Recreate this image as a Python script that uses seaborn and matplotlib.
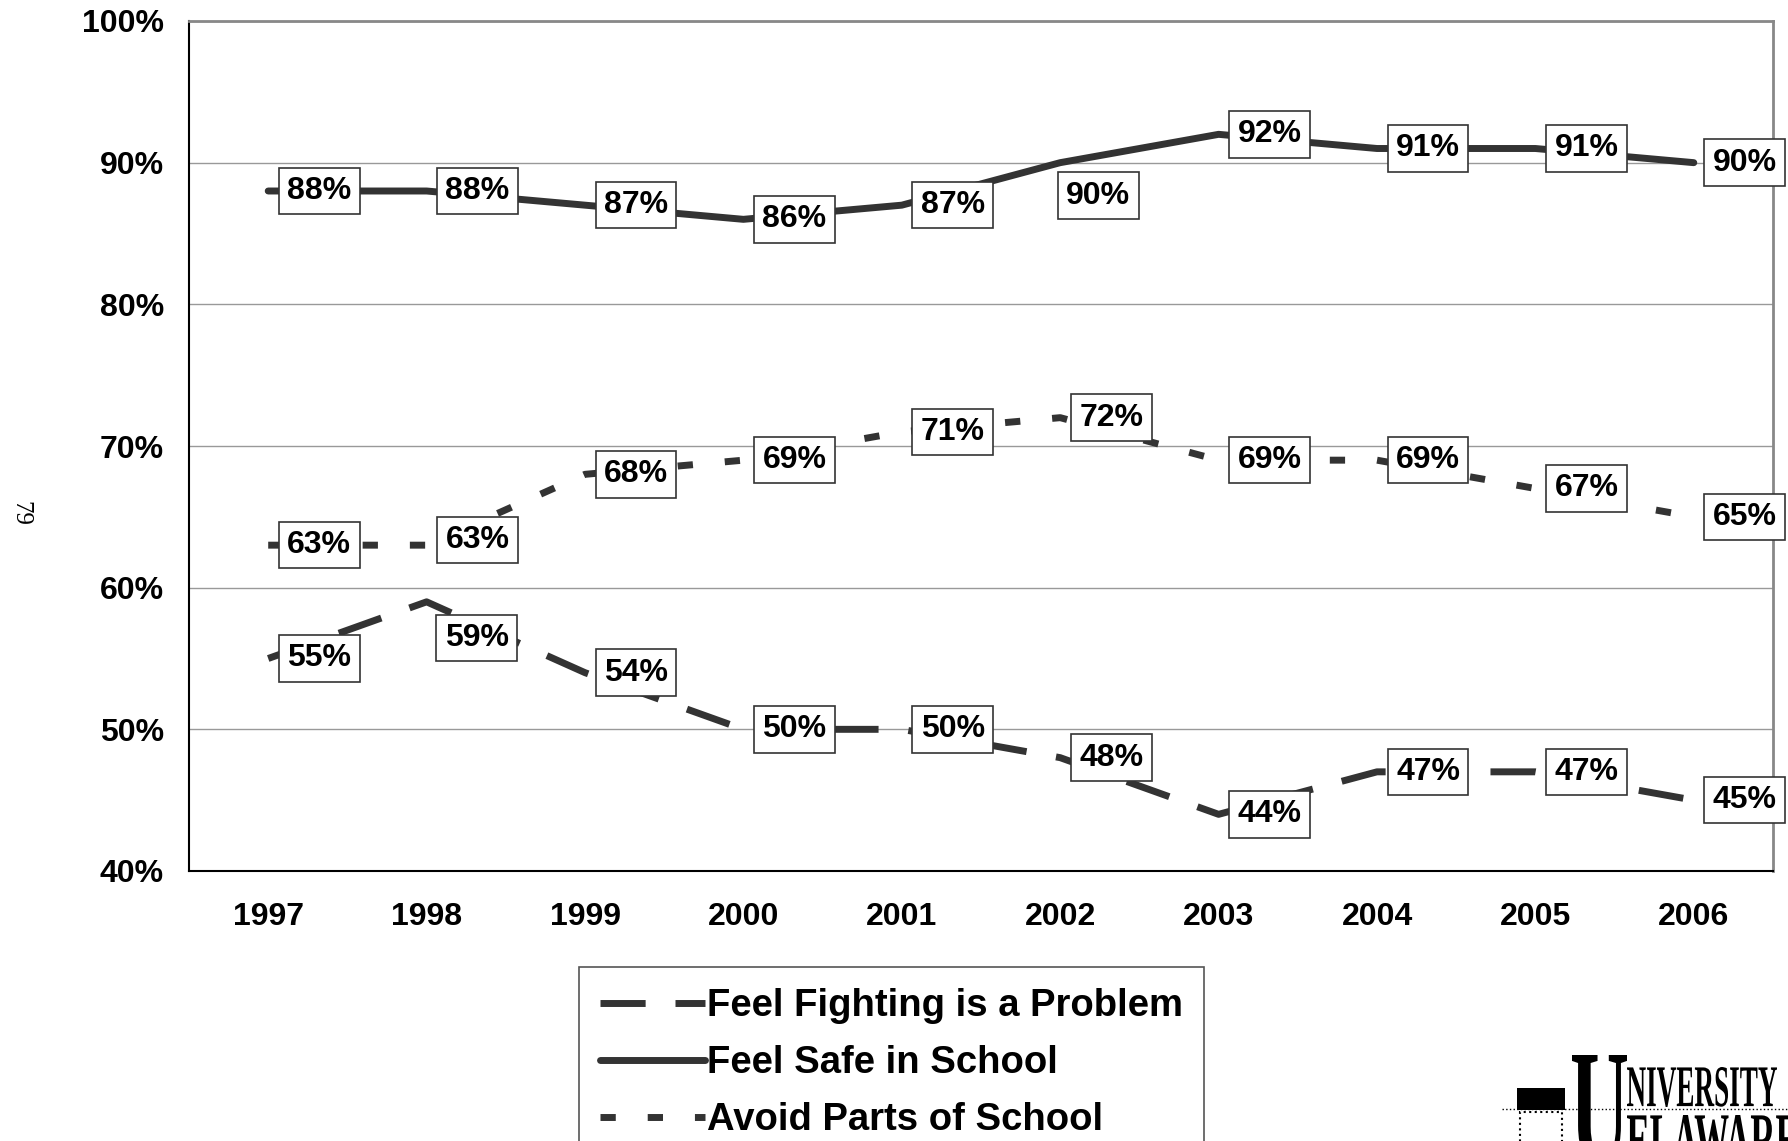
import numpy as np
import matplotlib
matplotlib.use("Agg")
import matplotlib.pyplot as plt
import seaborn as sns
from matplotlib.patches import PathPatch, Rectangle
from matplotlib.textpath import TextPath
from matplotlib.font_manager import FontProperties
from matplotlib.transforms import Affine2D, IdentityTransform
from matplotlib.ticker import FuncFormatter

# values
years = ["1997", "1998", "1999", "2000", "2001", "2002", "2003", "2004", "2005", "2006"]
fighting = [55, 59, 54, 50, 50, 48, 44, 47, 47, 45]
safe = [88, 88, 87, 86, 87, 90, 92, 91, 91, 90]
avoid = [63, 63, 68, 69, 71, 72, 69, 69, 67, 65]

sns.set_style("white")
plt.rcParams['font.family'] = ['Liberation Sans', 'DejaVu Sans']
plt.rcParams['font.weight'] = 'bold'
plt.rcParams['text.color'] = 'black'
plt.rcParams['xtick.color'] = 'black'
plt.rcParams['ytick.color'] = 'black'

W, H = 1788, 1141
fig = plt.figure(figsize=(W / 100, H / 100), dpi=100)
ax = fig.add_axes([189 / W, 1 - 871 / H, (1773 - 189) / W, 850 / H])

x = np.arange(len(years))
col = "#333333"
series = [
    ("Feel Fighting is a Problem", fighting, (0, (6.5, 4.3))),
    ("Feel Safe in School", safe, "-"),
    ("Avoid Parts of School", avoid, (0, (2.2, 4.6))),
]
for name, vals, ls in series:
    sns.lineplot(x=x, y=vals, ax=ax, color=col, lw=5, linestyle=ls, label=name,
                 solid_capstyle="round", dash_capstyle="butt", zorder=3)

# data labels (offsets in pixels, a few were moved by hand in the original)
moved = {("safe", 5): (38, -33), ("fighting", 1): (50, -36), ("avoid", 1): (51, 5)}
for key, vals in [("fighting", fighting), ("safe", safe), ("avoid", avoid)]:
    for i, v in enumerate(vals):
        dx, dy = moved.get((key, i), (51, 0))
        ax.annotate(f"{v}%", (x[i], v), xytext=(dx, dy), textcoords="offset pixels",
                    ha="center", va="center", fontsize=23, fontweight="bold", color="black",
                    bbox=dict(boxstyle="square,pad=0.26", fc="white", ec="#333333", lw=1.2),
                    zorder=5, annotation_clip=False)

ax.set_xlim(-0.5, 9.5)
ax.set_ylim(40, 100)
ax.set_yticks(range(40, 101, 10))
ax.yaxis.set_major_formatter(FuncFormatter(lambda v, p: f"{v:.0f}%"))
ax.set_xticks(x)
ax.set_xticklabels(years)
ax.set_xticks(np.arange(-0.5, 10, 1), minor=True)
ax.tick_params(axis="x", which="major", length=0, pad=22, labelsize=23)
ax.tick_params(axis="x", which="minor", length=7, width=1.2, direction="out", color="black")
ax.tick_params(axis="y", length=7, width=1.2, direction="out", color="black", pad=11, labelsize=23)
ax.set_xlabel("")
ax.set_ylabel("")
ax.grid(axis="y", color="#999999", lw=1)
ax.set_axisbelow(True)
for s in ["left", "bottom"]:
    ax.spines[s].set_color("black")
    ax.spines[s].set_linewidth(1.5)
for s in ["top", "right"]:
    ax.spines[s].set_color("#888888")
    ax.spines[s].set_linewidth(2)

leg = ax.legend(loc="upper left", bbox_to_anchor=(579 / W, 1 - 967 / H),
                bbox_transform=fig.transFigure, borderaxespad=0, fontsize=27.5,
                handlelength=2.75, handletextpad=0.05, labelspacing=0.55,
                borderpad=0.55, fancybox=False, framealpha=1, edgecolor="#555555")
leg.get_frame().set_linewidth(1.2)
for t in leg.get_texts():
    t.set_fontweight("bold")
    t.set_color("black")

# page number
fig.text(20 / W, 1 - 513 / H, "79", rotation=-90, fontsize=18, family="Liberation Serif",
         fontweight="normal", ha="center", va="center")


# rough copy of the cropped logo, bottom right
def logo_text(s, x0, y_top, w, h, family="Liberation Serif"):
    tp = TextPath((0, 0), s, size=1, prop=FontProperties(family=family))
    ext = tp.get_extents()
    tr = Affine2D().translate(-ext.x0, -ext.y0).scale(w / ext.width, h / ext.height) \
        .translate(x0, H - y_top - h)
    fig.add_artist(PathPatch(tp, transform=tr + IdentityTransform(), fc="black", ec="none"))


logo_text("U", 1572, 1055, 55, 110)
logo_text("NIVERSITY", 1627, 1067, 150, 40)
logo_text("ELAWARE", 1627, 1115, 170, 50)
fig.add_artist(Rectangle((1517, H - 1110), 48, 22, transform=IdentityTransform(),
                         fc="black", ec="none"))
fig.add_artist(Rectangle((1520, H - 1160), 42, 48, transform=IdentityTransform(),
                         fc="none", ec="black", lw=1.5, ls=":"))
fig.add_artist(plt.Line2D([1502, 1788], [H - 1109, H - 1109], transform=IdentityTransform(),
                          color="black", lw=1, ls=":"))

fig.savefig("out.png", dpi=100)
